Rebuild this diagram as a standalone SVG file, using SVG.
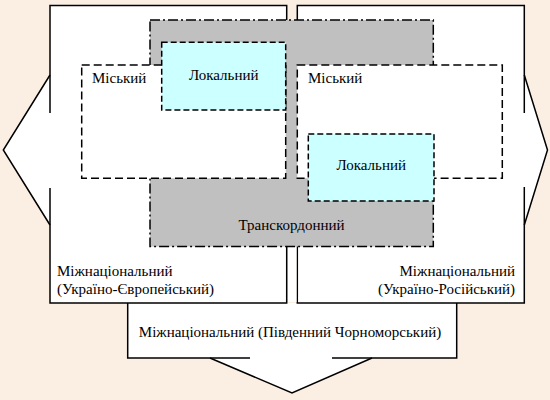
<svg xmlns="http://www.w3.org/2000/svg" width="550" height="400" viewBox="0 0 550 400">
<style>
  .solid { fill: none; stroke: #000; stroke-width: 1.5; }
  .wfill { fill: #fff; stroke: none; }
  .trans { fill: #c0c0c0; stroke: #000; stroke-width: 1.5; stroke-dasharray: 10 3 2 3; }
  .city { fill: #fff; stroke: #000; stroke-width: 1.5; stroke-dasharray: 8 4; }
  .local { fill: #ccffff; stroke: #000; stroke-width: 1.5; stroke-dasharray: 6 3; }
  text { font-family: "Liberation Serif", "Times New Roman", serif; font-size: 15px; fill: #000; }
</style>
<rect x="0" y="0" width="550" height="400" fill="#fbefe3"/>

<g id="south">
  <polygon class="wfill" points="127.7,303 456.7,303 456.7,358 372,358 292,393 210,358 127.7,358"/>
  <polyline class="solid" points="127.7,303 127.7,358 250,358"/>
  <polyline class="solid" points="456.7,303 456.7,358 332,358"/>
  <polyline class="solid" points="210,358 292,393 372,358"/>
  <text x="290" y="336.5" text-anchor="middle">Міжнаціональний (Південний Чорноморський)</text>
</g>

<g id="west">
  <polygon class="wfill" points="50,5.5 286.7,5.5 286.7,303 50,303 50,225 3.3,150 50,75"/>
  <polyline class="solid" points="50,113 50,5.5 286.7,5.5 286.7,303 50,303 50,188"/>
  <polyline class="solid" points="50,75 3.3,150 50,225"/>
  <text x="57" y="276">Міжнаціональний</text>
  <text x="57" y="294">(Україно-Європейський)</text>
</g>

<g id="east">
  <polygon class="wfill" points="297.3,5.5 524.3,5.5 524.3,75 547.5,150 524.3,225 524.3,303 297.3,303"/>
  <polyline class="solid" points="524.3,113 524.3,5.5 297.3,5.5 297.3,303 524.3,303 524.3,187"/>
  <polyline class="solid" points="524.3,75 547.5,150 524.3,225"/>
  <text x="515" y="276" text-anchor="end">Міжнаціональний</text>
  <text x="515" y="294" text-anchor="end">(Україно-Російський)</text>
</g>

<rect x="288" y="246" width="8.5" height="56" fill="#fff"/>

<g id="transborder">
  <rect class="trans" x="150" y="20" width="283.3" height="226.5"/>
  <text x="291.5" y="230" text-anchor="middle">Транскордонний</text>
</g>

<g id="city-west">
  <rect class="city" x="81.7" y="65" width="204" height="113.3"/>
  <text x="92" y="83">Міський</text>
</g>

<g id="city-east">
  <rect class="city" x="297.3" y="65" width="205" height="113.3"/>
  <text x="308" y="83">Міський</text>
</g>

<g id="local-west">
  <rect class="local" x="161.7" y="42.3" width="124" height="67.7"/>
  <text x="223.7" y="80" text-anchor="middle">Локальний</text>
</g>

<g id="local-east">
  <rect class="local" x="308.3" y="134" width="125.7" height="67"/>
  <text x="371.2" y="170" text-anchor="middle">Локальний</text>
</g>

<g id="connectors"></g>
</svg>
